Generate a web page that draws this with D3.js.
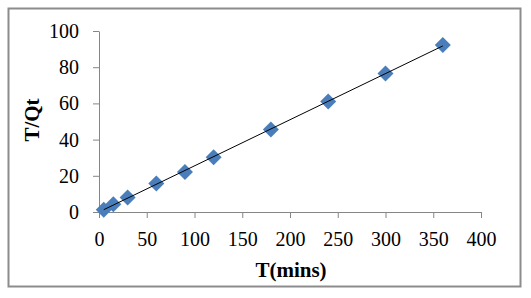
<!DOCTYPE html>
<html>
<head>
<meta charset="utf-8">
<script src="https://cdn.jsdelivr.net/npm/d3@7.9.0/dist/d3.min.js"></script>
<style>
  body { margin: 0; background: #fff; }
  svg { display: block; font-family: "Liberation Serif", "Times New Roman", serif; }
</style>
</head>
<body>
<svg id="chart" width="531" height="298"></svg>
<script>
const timeMins = [5, 15, 30, 60, 90, 120, 180, 240, 300, 360];
const tOverQt = [1.2, 4.3, 8.0, 15.8, 22.1, 30.2, 45.6, 61.0, 76.5, 92.2];
const xTicks = [0, 50, 100, 150, 200, 250, 300, 350, 400];
const yTicks = [0, 20, 40, 60, 80, 100];

const svg = d3.select("#chart");
const margin = { top: 31, right: 50, bottom: 86, left: 99 };
const width = +svg.attr("width") - margin.left - margin.right;
const height = +svg.attr("height") - margin.top - margin.bottom;

// outer frame
svg.append("rect")
  .attr("x", 8.5).attr("y", 8.5)
  .attr("width", 512).attr("height", 278)
  .attr("fill", "none")
  .attr("stroke", "#8c8c8c")
  .attr("stroke-width", 2);

const g = svg.append("g").attr("transform", `translate(${margin.left},${margin.top})`);

const x = d3.scaleLinear().domain([0, 400]).range([0, width]);
const y = d3.scaleLinear().domain([0, 100]).range([height, 0]);

// Axes
const xAxis = g.append("g")
  .attr("transform", `translate(0,${height})`)
  .call(d3.axisBottom(x).tickValues(xTicks).tickSize(6).tickSizeOuter(0).tickPadding(14));
const yAxis = g.append("g")
  .call(d3.axisLeft(y).tickValues(yTicks).tickSize(6).tickSizeOuter(0).tickPadding(14));

[xAxis, yAxis].forEach(a => {
  a.select(".domain").attr("stroke", "#868686");
  a.selectAll(".tick line").attr("stroke", "#868686");
  a.selectAll(".tick text")
    .attr("fill", "#000")
    .attr("font-size", 20)
    .attr("font-family", "Liberation Serif, Times New Roman, serif");
});

// Axis titles
svg.append("text")
  .attr("text-anchor", "middle")
  .attr("x", 291)
  .attr("y", 277)
  .attr("font-size", 21)
  .attr("font-weight", "bold")
  .text("T(mins)");

svg.append("text")
  .attr("text-anchor", "middle")
  .attr("transform", "rotate(-90)")
  .attr("x", -120)
  .attr("y", 39)
  .attr("font-size", 21)
  .attr("font-weight", "bold")
  .text("T/Qt");

// Linear trend line (least squares from the data)
const pts = timeMins.map((t, i) => ({ t, v: tOverQt[i] }));
const mx = d3.mean(pts, d => d.t), my = d3.mean(pts, d => d.v);
const slope = d3.sum(pts, d => (d.t - mx) * (d.v - my)) / d3.sum(pts, d => (d.t - mx) ** 2);
const icpt = my - slope * mx;
const ext = d3.extent(timeMins);

const line = d3.line()
  .x(d => x(d))
  .y(d => y(icpt + slope * d));

// Markers
g.selectAll(".pt")
  .data(pts)
  .join("path")
  .attr("class", "pt")
  .attr("transform", d => `translate(${x(d.t)},${y(d.v)})`)
  .attr("d", "M0,-8L8,0L0,8L-8,0Z")
  .attr("fill", "#4a7ebb");

g.append("path")
  .datum(ext)
  .attr("fill", "none")
  .attr("stroke", "#000")
  .attr("stroke-width", 1)
  .attr("d", line);
</script>
</body>
</html>
